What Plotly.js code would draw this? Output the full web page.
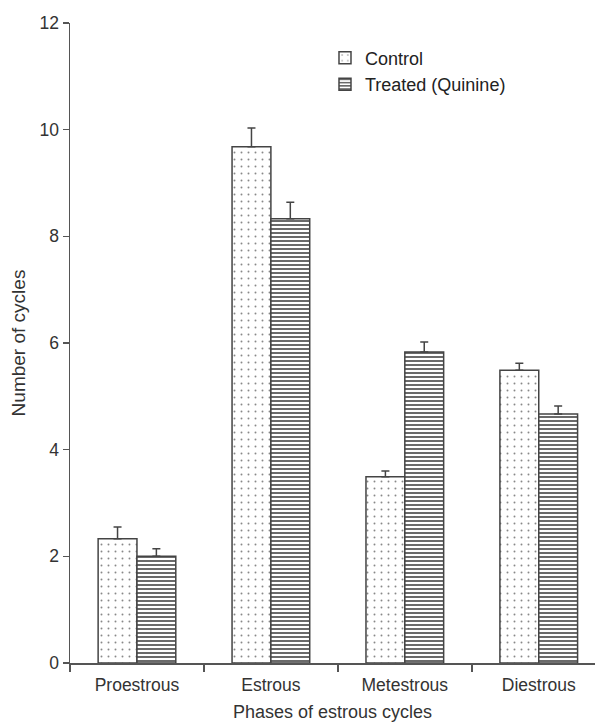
<!DOCTYPE html>
<html>
<head>
<meta charset="utf-8">
<script src="https://cdn.plot.ly/plotly-3.0.1.min.js"></script>
<style>html,body{margin:0;padding:0;background:#fff;}#chart{width:595px;height:722px;}</style>
</head>
<body>
<div id="chart"></div>
<script>
var phases = ["Proestrous", "Estrous", "Metestrous", "Diestrous"];
var controlValues = [2.33, 9.68, 3.49, 5.49];
var controlErrors = [0.22, 0.35, 0.11, 0.13];
var treatedValues = [2.0, 8.33, 5.83, 4.67];
var treatedErrors = [0.14, 0.31, 0.19, 0.15];
var yTicks = [0, 2, 4, 6, 8, 10, 12];

var edge = '#444';
var traces = [
  {
    type: 'bar', name: 'Control', x: phases, y: controlValues,
    marker: {color: 'white', line: {color: edge, width: 1.5},
      pattern: {shape: '.', size: 7, solidity: 0.06, fgcolor: '#888', bgcolor: 'white', fillmode: 'replace'}},
    error_y: {type: 'data', array: controlErrors, arrayminus: [0,0,0,0], symmetric: false, color: edge, thickness: 1.5, width: 4}
  },
  {
    type: 'bar', name: 'Treated (Quinine)', x: phases, y: treatedValues,
    marker: {color: 'white', line: {color: edge, width: 1.5},
      pattern: {shape: '-', size: 4, solidity: 0.4, fgcolor: '#444', bgcolor: 'white', fillmode: 'replace'}},
    error_y: {type: 'data', array: treatedErrors, arrayminus: [0,0,0,0], symmetric: false, color: edge, thickness: 1.5, width: 4}
  }
];

var layout = {
  width: 595, height: 722,
  margin: {l: 70, r: 0, t: 23, b: 59},
  paper_bgcolor: 'white', plot_bgcolor: 'white',
  barmode: 'group', bargap: 0.42, bargroupgap: 0,
  font: {family: 'Liberation Sans, Arial, sans-serif', size: 17.5, color: '#333'},
  showlegend: true,
  legend: {x: 0.4857, y: 0.974, xanchor: 'left', yanchor: 'top', bgcolor: 'rgba(0,0,0,0)',
    font: {size: 18, color: '#222'}, itemwidth: 30},
  xaxis: {
    type: 'category', range: [-0.5, 3.42], tickson: 'boundaries',
    ticks: 'outside', ticklen: 7, tickcolor: '#555', tickwidth: 1.5,
    showline: true, linecolor: '#555', linewidth: 1.5, showgrid: false, zeroline: false,
    tickfont: {size: 17.5, color: '#333'}, ticklabelstandoff: 5,
    title: {text: 'Phases of estrous cycles', font: {size: 18, color: '#333'}, standoff: 12}
  },
  yaxis: {
    range: [0, 12], tickvals: yTicks, ticktext: yTicks.map(String),
    ticks: 'outside', ticklen: 6, tickcolor: '#555', tickwidth: 1.5,
    showline: true, linecolor: '#555', linewidth: 1.5, showgrid: false, zeroline: false,
    tickfont: {size: 17.5, color: '#333'},
    title: {text: 'Number of cycles', font: {size: 19, color: '#333'}, standoff: 9}
  }
};

Plotly.newPlot('chart', traces, layout, {displayModeBar: false, staticPlot: true});
</script>
</body>
</html>
